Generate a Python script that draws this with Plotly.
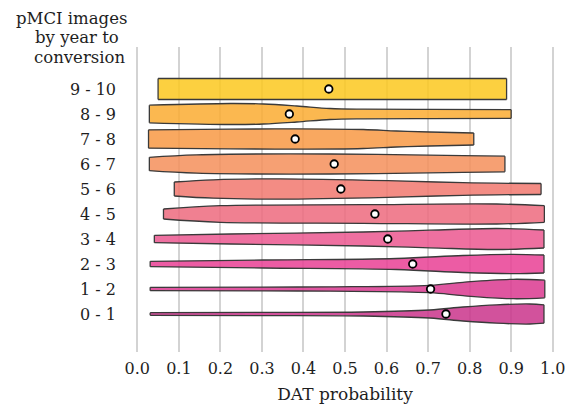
import plotly.graph_objects as go

# categories (bottom to top)
categories = ["0 - 1", "1 - 2", "2 - 3", "3 - 4", "4 - 5",
              "5 - 6", "6 - 7", "7 - 8", "8 - 9", "9 - 10"]

# median DAT probability per category
medians = [0.743, 0.706, 0.663, 0.603, 0.572, 0.490, 0.474, 0.380, 0.366, 0.461]

# density profiles: DAT probability knots and half-widths (fraction of row spacing)
pos_0_1 = [0.031, 0.30, 0.544, 0.704, 0.784, 0.865, 0.945, 0.979]
hw_0_1 = [0.052, 0.064, 0.080, 0.160, 0.280, 0.368, 0.400, 0.368]
pos_1_2 = [0.031, 0.30, 0.464, 0.704, 0.784, 0.905, 0.981]
hw_1_2 = [0.068, 0.078, 0.088, 0.148, 0.268, 0.388, 0.352]
pos_2_3 = [0.031, 0.304, 0.624, 0.784, 0.905, 0.979]
hw_2_3 = [0.108, 0.160, 0.220, 0.340, 0.388, 0.360]
pos_3_4 = [0.041, 0.224, 0.544, 0.704, 0.865, 0.979]
hw_3_4 = [0.148, 0.200, 0.280, 0.352, 0.420, 0.360]
pos_4_5 = [0.063, 0.200, 0.544, 0.865, 0.980]
hw_4_5 = [0.200, 0.332, 0.372, 0.400, 0.332]
pos_5_6 = [0.089, 0.183, 0.344, 0.624, 0.784, 0.972]
hw_5_6 = [0.280, 0.368, 0.408, 0.328, 0.252, 0.220]
pos_6_7 = [0.029, 0.143, 0.464, 0.784, 0.885]
hw_6_7 = [0.268, 0.368, 0.400, 0.332, 0.312]
pos_7_8 = [0.027, 0.224, 0.384, 0.544, 0.624, 0.704, 0.810]
hw_7_8 = [0.368, 0.392, 0.408, 0.380, 0.320, 0.280, 0.240]
pos_8_9 = [0.029, 0.224, 0.304, 0.384, 0.464, 0.544, 0.704, 0.900]
hw_8_9 = [0.352, 0.420, 0.400, 0.320, 0.220, 0.192, 0.184, 0.172]
pos_9_10 = [0.050, 0.30, 0.60, 0.889]
hw_9_10 = [0.420, 0.420, 0.420, 0.420]

positions = [pos_0_1, pos_1_2, pos_2_3, pos_3_4, pos_4_5,
             pos_5_6, pos_6_7, pos_7_8, pos_8_9, pos_9_10]
halfwidths = [hw_0_1, hw_1_2, hw_2_3, hw_3_4, hw_4_5,
              hw_5_6, hw_6_7, hw_7_8, hw_8_9, hw_9_10]

colors = ["rgb(202,52,139)", "rgb(218,56,143)", "rgb(233,63,148)",
          "rgb(235,87,143)", "rgb(237,106,126)", "rgb(241,120,110)",
          "rgb(244,143,90)", "rgb(248,153,68)", "rgb(250,171,49)",
          "rgb(251,200,30)"]

tick_vals = [0.0, 0.1, 0.2, 0.3, 0.4, 0.5, 0.6, 0.7, 0.8, 0.9, 1.0]

title_lines = ["pMCI images", "by year to", "conversion"]

FONT = "DejaVu Serif"
EDGE = "#3a3a3a"

fig = go.Figure()

for i, cat in enumerate(categories):
    xs = positions[i]
    ws = halfwidths[i]
    fill = colors[i].replace("rgb", "rgba").replace(")", ",0.85)")
    lower = [i - w for w in ws]
    upper = [i + w for w in ws]
    fig.add_trace(go.Scatter(x=xs, y=lower, mode="lines",
                             line=dict(color=EDGE, width=1.3, shape="spline", smoothing=1),
                             hoverinfo="skip", showlegend=False))
    fig.add_trace(go.Scatter(x=xs, y=upper, mode="lines", fill="tonexty",
                             fillcolor=fill,
                             line=dict(color=EDGE, width=1.3, shape="spline", smoothing=1),
                             hoverinfo="skip", showlegend=False))
    fig.add_trace(go.Scatter(x=[xs[0], xs[0], None, xs[-1], xs[-1]],
                             y=[lower[0], upper[0], None, lower[-1], upper[-1]],
                             mode="lines", line=dict(color=EDGE, width=1.3),
                             hoverinfo="skip", showlegend=False))

fig.add_trace(go.Scatter(x=medians, y=list(range(len(categories))), mode="markers",
                         marker=dict(color="white", size=7.5,
                                     line=dict(color="black", width=1.8)),
                         showlegend=False))

# y-axis title lines placed above the tick labels (pixel offsets relative to plot area)
title_cx = [71.5, 76.5, 79.0]
title_top = [7.0, 26.5, 46.0]
annotations = []
for line, cx, top in zip(title_lines, title_cx, title_top):
    annotations.append(dict(text=line, xref="paper", yref="paper",
                            x=(cx - 129) / 432, y=1 + (47 - top) / 305,
                            xanchor="center", yanchor="top", showarrow=False,
                            font=dict(family=FONT, size=16.5)))

fig.update_layout(
    width=573, height=399,
    margin=dict(l=121, r=20, t=39, b=55, autoexpand=False),
    paper_bgcolor="white", plot_bgcolor="white",
    font=dict(family=FONT, size=16, color="#1e1e1e"),
    xaxis=dict(range=[-0.02, 1.02], tickvals=tick_vals,
               ticktext=[f"{v:.1f}" for v in tick_vals],
               showgrid=True, gridcolor="#d3d3d3", gridwidth=1.5,
               zeroline=False, showline=False, ticks="", automargin=False,
               ticklabelstandoff=5,
               title=dict(text="DAT probability", standoff=11,
                          font=dict(family=FONT, size=17))),
    yaxis=dict(range=[-1.52, 10.68], tickvals=list(range(len(categories))),
               ticktext=categories, showgrid=False, zeroline=False,
               showline=False, ticks="", ticklabelstandoff=12, automargin=False),
    annotations=annotations,
)

fig.write_html("out.html")
